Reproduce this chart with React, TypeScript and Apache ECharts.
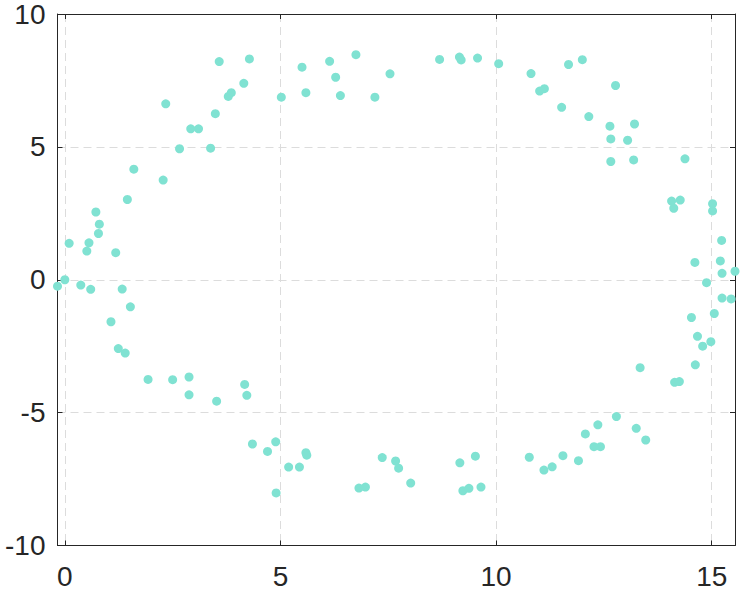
import React, { useEffect, useRef } from "react";
import * as echarts from "echarts";

const xValues = [
  0.1, 0, -0.17, 0.37, 0.6, 0.51, 0.56, 0.72, 0.8, 0.78, 1.18, 1.07, 1.33, 1.52, 1.24, 1.4, 1.45, 1.6, 1.93, 2.28,
  2.34, 2.5, 2.66, 2.88, 2.88, 2.92, 3.1, 3.38, 3.49, 3.52, 3.58, 3.79, 3.86, 4.15, 4.17, 4.22, 4.28, 4.35, 4.7, 4.89,
  4.9, 5.02, 5.19, 5.44, 5.5, 5.59, 5.59, 5.61, 6.14, 6.28, 6.39, 6.75, 6.82, 6.97, 7.19, 7.36, 7.54, 7.67, 7.74, 8.02,
  8.69, 9.15, 9.19, 9.16, 9.23, 9.37, 9.57, 9.52, 9.65, 10.06, 10.81, 10.77, 11.01, 11.12, 11.11, 11.3, 11.52, 11.55, 11.68, 11.91,
  12.0, 12.07, 12.15, 12.27, 12.42, 12.36, 12.64, 12.66, 12.66, 12.79, 12.77, 13.05, 13.21, 13.19, 13.25, 13.47, 13.34, 14.07, 14.12, 14.27,
  14.38, 14.14, 14.25, 14.53, 14.61, 14.67, 14.62, 14.79, 14.88, 14.98, 15.02, 15.02, 15.06, 15.23, 15.2, 15.24, 15.24, 15.45, 15.54,
];

const yValues = [
  1.37, 0, -0.24, -0.2, -0.36, 1.08, 1.39, 2.55, 2.09, 1.74, 1.02, -1.58, -0.35, -1.02, -2.59, -2.76, 3.02, 4.16, -3.75, 3.75,
  6.62, -3.76, 4.93, -3.66, -4.33, 5.68, 5.68, 4.95, 6.25, -4.57, 8.21, 6.9, 7.04, 7.39, -3.94, -4.35, 8.31, -6.18, -6.46, -6.1,
  -8.02, 6.87, -7.05, -7.05, 8.0, 7.04, -6.51, -6.6, 8.22, 7.62, 6.93, 8.47, -7.84, -7.8, 6.87, -6.69, 7.75, -6.82, -7.09, -7.65,
  8.29, 8.38, 8.27, -6.89, -7.94, -7.85, 8.34, -6.64, -7.8, 8.13, 7.76, -6.68, 7.1, 7.19, -7.16, -7.04, 6.49, -6.62, 8.1, -6.81,
  8.28, -5.8, 6.14, -6.28, -6.28, -5.46, 5.78, 5.3, 4.45, -5.15, 7.31, 5.25, 5.86, 4.51, -5.59, -6.03, -3.31, 2.96, 2.69, 3.0,
  4.55, -3.86, -3.83, -1.42, 0.65, -2.13, -3.2, -2.5, -0.11, -2.33, 2.86, 2.59, -1.27, 1.48, 0.71, 0.24, -0.69, -0.72, 0.32,
];

const yTicks = { min: -10, max: 10, interval: 5 };

export default function App() {
  const ref = useRef<HTMLDivElement>(null);

  useEffect(() => {
    if (!ref.current) return;
    const chart = echarts.init(ref.current, undefined, { renderer: "svg" });
    const xMin = Math.min(...xValues);
    const xMax = Math.max(...xValues);
    const data = xValues.map((x, i) => [x, yValues[i]]);
    const axisColor = "#262626";
    const font = "Liberation Sans, Arial, sans-serif";
    const splitLine = {
      show: true,
      lineStyle: { color: "#dcdcdc", type: [8, 5], width: 1 },
    };
    chart.setOption({
      animation: false,
      grid: { left: 57.5, top: 12.5, width: 677.5, height: 533, containLabel: false },
      xAxis: [
        {
          type: "value",
          min: xMin,
          max: xMax,
          splitNumber: 3,
          axisLine: { show: true, onZero: false, lineStyle: { color: axisColor, width: 1 } },
          axisTick: { show: true, inside: true, length: 5, lineStyle: { color: axisColor } },
          axisLabel: {
            show: true,
            margin: 17,
            fontSize: 28,
            color: axisColor,
            fontFamily: font,
            showMinLabel: false,
            showMaxLabel: false,
          },
          splitLine,
        },
        {
          type: "value",
          position: "top",
          min: xMin,
          max: xMax,
          splitNumber: 3,
          axisLine: { show: true, onZero: false, lineStyle: { color: axisColor, width: 1 } },
          axisTick: { show: true, inside: true, length: 5, lineStyle: { color: axisColor } },
          axisLabel: { show: false },
          splitLine: { show: false },
        },
      ],
      yAxis: [
        {
          type: "value",
          min: yTicks.min,
          max: yTicks.max,
          interval: yTicks.interval,
          axisLine: { show: true, onZero: false, lineStyle: { color: axisColor, width: 1 } },
          axisTick: { show: true, inside: true, length: 5, lineStyle: { color: axisColor } },
          axisLabel: { show: true, margin: 12, fontSize: 28, color: axisColor, fontFamily: font },
          splitLine,
        },
        {
          type: "value",
          position: "right",
          min: yTicks.min,
          max: yTicks.max,
          interval: yTicks.interval,
          axisLine: { show: true, onZero: false, lineStyle: { color: axisColor, width: 1 } },
          axisTick: { show: true, inside: true, length: 5, lineStyle: { color: axisColor } },
          axisLabel: { show: false },
          splitLine: { show: false },
        },
      ],
      series: [
        {
          type: "scatter",
          data,
          symbol: "circle",
          symbolSize: 9,
          clip: false,
          itemStyle: { color: "#80e2d2", opacity: 1 },
        },
      ],
    });
    return () => chart.dispose();
  }, []);

  return (
    <div
      ref={ref}
      style={{ position: "absolute", left: 0, top: 0, width: 742, height: 592 }}
    />
  );
}
